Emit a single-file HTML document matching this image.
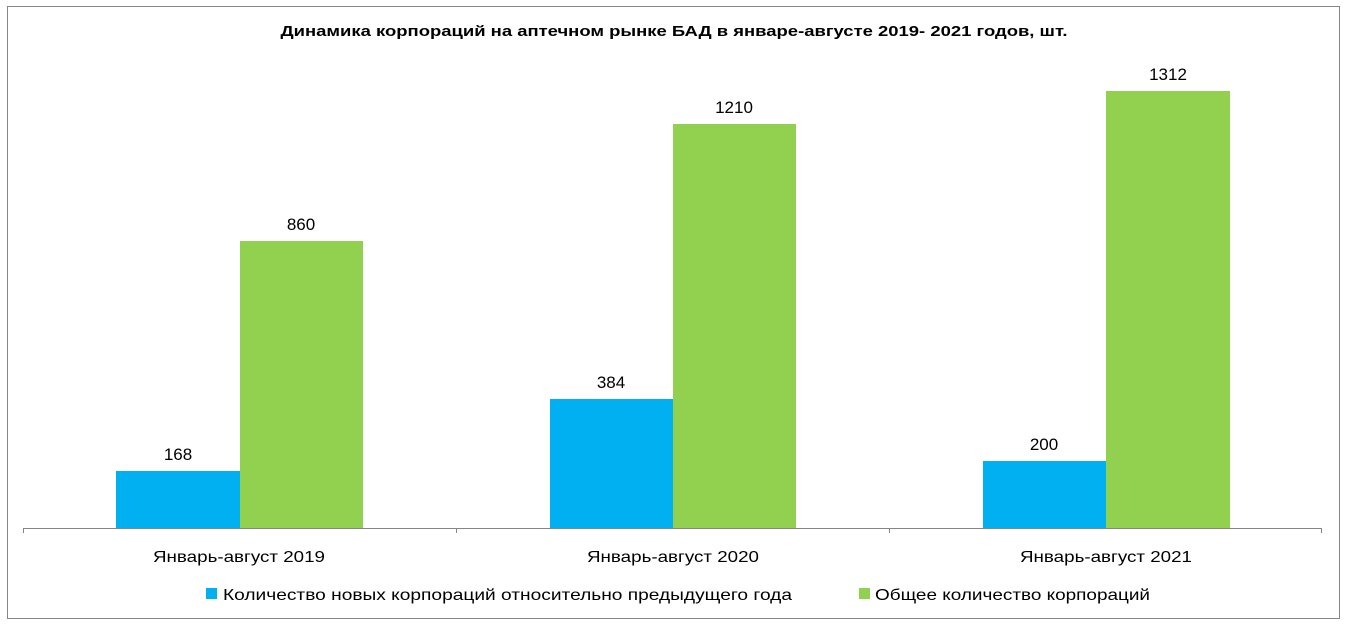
<!DOCTYPE html>
<html><head><meta charset="utf-8"><style>
html,body{margin:0;padding:0;background:#fff;}
svg{display:block;}
text{font-family:"Liberation Sans",sans-serif;fill:#000;}
</style></head><body>
<svg width="1350" height="629" viewBox="0 0 1350 629">
<rect x="7.5" y="6.5" width="1332" height="612" fill="#fff" stroke="#868686" stroke-width="1"/>
<text x="674" y="36" font-size="15" font-weight="bold" text-anchor="middle" textLength="787" lengthAdjust="spacingAndGlyphs">Динамика корпораций на аптечном рынке БАД в январе-августе 2019- 2021 годов, шт.</text>
<rect x="116" y="471" width="124" height="57" fill="#00b0f0"/>
<rect x="240" y="241" width="123" height="287" fill="#92d050"/>
<rect x="550" y="399" width="123" height="129" fill="#00b0f0"/>
<rect x="673" y="124" width="123" height="404" fill="#92d050"/>
<rect x="983" y="461" width="123" height="67" fill="#00b0f0"/>
<rect x="1106" y="91" width="124" height="437" fill="#92d050"/>
<g font-size="17" text-anchor="middle">
<text x="178" y="460">168</text>
<text x="301" y="230">860</text>
<text x="611" y="388">384</text>
<text x="734" y="113">1210</text>
<text x="1044" y="450">200</text>
<text x="1168" y="80">1312</text>
</g>
<path d="M23 528.5H1322M23.5 528v5M456.5 528v5M889.5 528v5M1321.5 528v5" stroke="#868686" stroke-width="1" fill="none"/>
<g font-size="16" text-anchor="middle">
<text x="239" y="562" textLength="172" lengthAdjust="spacingAndGlyphs">Январь-август 2019</text>
<text x="673" y="562" textLength="172" lengthAdjust="spacingAndGlyphs">Январь-август 2020</text>
<text x="1106" y="562" textLength="172" lengthAdjust="spacingAndGlyphs">Январь-август 2021</text>
</g>
<rect x="206" y="588" width="11" height="11" fill="#00b0f0"/>
<text x="223" y="600" font-size="16" textLength="569" lengthAdjust="spacingAndGlyphs">Количество новых корпораций относительно предыдущего года</text>
<rect x="859" y="588" width="11" height="11" fill="#92d050"/>
<text x="875" y="600" font-size="16" textLength="275" lengthAdjust="spacingAndGlyphs">Общее количество корпораций</text>
</svg>
</body></html>
